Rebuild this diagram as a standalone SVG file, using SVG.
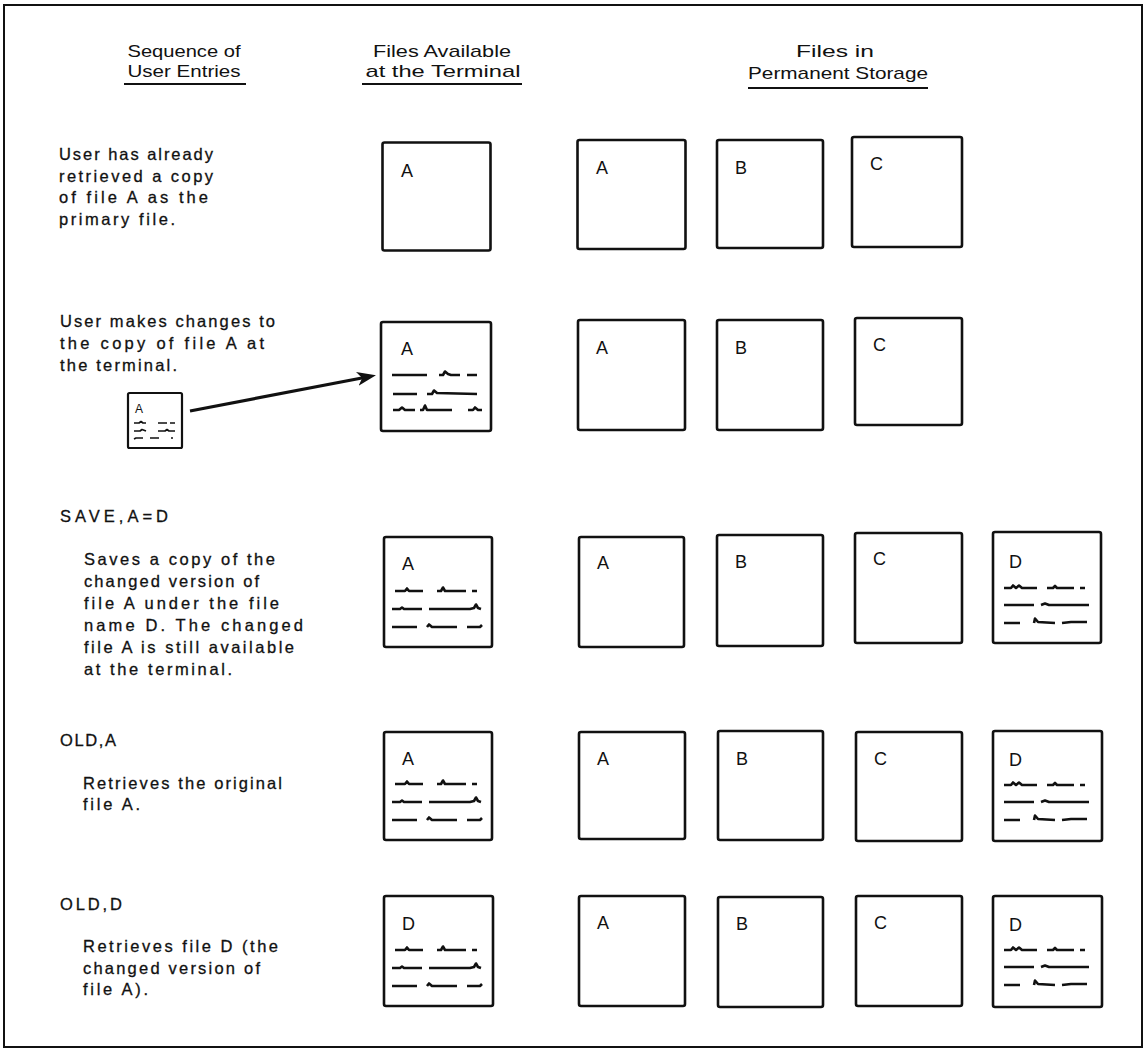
<svg xmlns="http://www.w3.org/2000/svg" xmlns:xlink="http://www.w3.org/1999/xlink" width="1147" height="1063" viewBox="0 0 1147 1063">
<style>
  .frame{fill:#fff;stroke:#111;stroke-width:2}
  .box{fill:#fff;stroke:#111;stroke-width:2.6}
  .hdr{font-family:"Liberation Sans Narrow","Liberation Sans",Arial,sans-serif;font-size:17px;fill:#111;text-anchor:middle}
  .ul{stroke:#111;stroke-width:2.2}
  .txt{font-family:"Liberation Sans",Arial,sans-serif;font-size:16.5px;fill:#111;stroke:#111;stroke-width:0.3}
  .lbl{font-family:"Liberation Sans",Arial,sans-serif;font-size:18px;fill:#111}
  .slbl{font-family:"Liberation Sans",Arial,sans-serif;font-size:12px;fill:#111}
  .scr{fill:none;stroke:#111;stroke-width:2.6;stroke-linejoin:round}
  .scrs{fill:none;stroke:#111;stroke-width:1.7;stroke-linejoin:round}
  .conn{fill:none;stroke:#111;stroke-width:3.2}
</style>
<defs>
  <marker id="arrow" markerUnits="userSpaceOnUse" markerWidth="22" markerHeight="16" refX="6" refY="7" orient="auto">
    <path d="M0,0 L19,7 L0,14 L5,7 Z" fill="#111"/>
  </marker>
  <g id="scrT">
    <path class="scr" d="M11,54 L21,54 L23,51.5 L25,54 L39,54 M53,54 L57,54 L59,50.5 L61,54 L82,54 M88,54 L93,54"/>
    <path class="scr" d="M8,72 L16,72 L18,70.5 L20,72 L38,72 M45,72 L86,72 L90,71 L92,67.5 L94,71 L97,72"/>
    <path class="scr" d="M8,90 L33,90 M43,90 L45,87.5 L48,90 L73,90 M83,90 L96,90 L98,88"/>
  </g>
  <g id="scrD">
    <path class="scr" d="M11,56 L18,56 L20,53.5 L23,56 L26,53.5 L29,56 L44,56 M54,56 L60,56 L62,54 L64,56 L81,56 M87,56 L92,56"/>
    <path class="scr" d="M11,73 L41,73 M48,73 L52,71.5 L56,73 L96,73"/>
    <path class="scr" d="M11,91 L27,91 M41,91 L42,86.5 L45,90 L62,91 M69,91 L78,90 L94,90"/>
  </g>
</defs>

<rect class="frame" x="4" y="5" width="1138" height="1042"/>

<g id="header">
  <text class="hdr" x="184" y="57" textLength="113" lengthAdjust="spacingAndGlyphs">Sequence of</text>
  <text class="hdr" x="184" y="77" textLength="113" lengthAdjust="spacingAndGlyphs">User Entries</text>
  <line class="ul" x1="124" y1="84" x2="246" y2="84"/>
  <text class="hdr" x="442" y="57" textLength="138" lengthAdjust="spacingAndGlyphs">Files Available</text>
  <text class="hdr" x="443" y="77" textLength="155" lengthAdjust="spacingAndGlyphs">at the Terminal</text>
  <line class="ul" x1="362" y1="84" x2="522" y2="84"/>
  <text class="hdr" x="835" y="57" textLength="78" lengthAdjust="spacingAndGlyphs">Files in</text>
  <text class="hdr" x="838" y="79" textLength="180" lengthAdjust="spacingAndGlyphs">Permanent Storage</text>
  <line class="ul" x1="748" y1="88" x2="928" y2="88"/>
</g>

<g id="entries">
  <text class="txt" x="59" y="160" textLength="154">User has already</text>
  <text class="txt" x="59" y="181.5" textLength="154">retrieved a copy</text>
  <text class="txt" x="59" y="203" textLength="149">of file A as the</text>
  <text class="txt" x="59" y="225" textLength="116">primary file.</text>

  <text class="txt" x="60" y="327" textLength="215">User makes changes to</text>
  <text class="txt" x="60" y="349" textLength="204">the copy of file A at</text>
  <text class="txt" x="60" y="371" textLength="117">the terminal.</text>

  <text class="txt" x="60" y="521.5" textLength="108">SAVE,A=D</text>
  <text class="txt" x="84" y="565" textLength="191">Saves a copy of the</text>
  <text class="txt" x="84" y="587" textLength="175">changed version of</text>
  <text class="txt" x="84" y="609" textLength="195">file A under the file</text>
  <text class="txt" x="84" y="631" textLength="219">name D.  The changed</text>
  <text class="txt" x="84" y="653" textLength="210">file A is still available</text>
  <text class="txt" x="84" y="675" textLength="148">at the terminal.</text>

  <text class="txt" x="60" y="746" textLength="56">OLD,A</text>
  <text class="txt" x="83" y="789" textLength="199">Retrieves the original</text>
  <text class="txt" x="83" y="810" textLength="57">file A.</text>

  <text class="txt" x="60" y="910" textLength="62">OLD,D</text>
  <text class="txt" x="83" y="952" textLength="195">Retrieves file D (the</text>
  <text class="txt" x="83" y="974" textLength="177">changed version of</text>
  <text class="txt" x="83" y="995" textLength="65">file A).</text>
</g>

<!-- Row 1 -->
<g id="r1-term"><rect class="box" x="382.5" y="142.5" width="108" height="108" rx="2"/><text class="lbl" x="401" y="177">A</text></g>
<g id="r1-A"><rect class="box" x="577.5" y="140" width="108" height="109" rx="2"/><text class="lbl" x="596" y="174">A</text></g>
<g id="r1-B"><rect class="box" x="717" y="140" width="106" height="108" rx="2"/><text class="lbl" x="735" y="174">B</text></g>
<g id="r1-C"><rect class="box" x="852" y="137" width="110" height="110" rx="2"/><text class="lbl" x="870" y="170">C</text></g>

<!-- Row 2 -->
<g id="r2-small">
  <rect class="box" x="128" y="393" width="54" height="55" rx="1.5" style="stroke-width:2.2"/>
  <text class="slbl" x="135" y="413">A</text>
  <path class="scrs" d="M134,423 L139,423 L141,421.5 L143,423 L146,423 M158,423 L167,423 M170,423 L175,423"/>
  <path class="scrs" d="M134,431 L140,431 L142,429.5 L146,431 M158,431 L165,431 L167,429.5 L169,431 L175,431"/>
  <path class="scrs" d="M134,439 L136,438 L143,438 M150,438 L159,438 M171,438 L173,438"/>
</g>
<g id="r2-term">
  <rect class="box" x="381" y="322" width="110" height="109" rx="2"/>
  <text class="lbl" x="401" y="355">A</text>
  <path class="scr" d="M392,375 L427,375 M439,375 L443,375 L445,371.5 L448,374 L451,375 L460,375 M467,375 L477,375"/>
  <path class="scr" d="M393,394 L417,394 M427,394 L432,394 L434,390.5 L437,393 L477,394"/>
  <path class="scr" d="M393,410 L399,410 L402,407.5 L405,410 L415,410 M420,410 L423,410 L425,405.5 L427,410 L452,410 M468,410 L473,410 L475,407.5 L478,410 L482,410"/>
</g>
<g id="r2-A"><rect class="box" x="578" y="320" width="107" height="110" rx="2"/><text class="lbl" x="596" y="354">A</text></g>
<g id="r2-B"><rect class="box" x="717" y="320" width="106" height="110" rx="2"/><text class="lbl" x="735" y="354">B</text></g>
<g id="r2-C"><rect class="box" x="855" y="318" width="107" height="107" rx="2"/><text class="lbl" x="873" y="351">C</text></g>

<!-- Row 3 -->
<g id="r3-term"><rect class="box" x="384" y="537" width="108" height="110" rx="2"/><text class="lbl" x="402" y="570">A</text><use xlink:href="#scrT" href="#scrT" x="384" y="537"/></g>
<g id="r3-A"><rect class="box" x="579" y="537" width="105" height="110" rx="2"/><text class="lbl" x="597" y="569">A</text></g>
<g id="r3-B"><rect class="box" x="717" y="535" width="106" height="111" rx="2"/><text class="lbl" x="735" y="568">B</text></g>
<g id="r3-C"><rect class="box" x="855" y="533" width="107" height="110" rx="2"/><text class="lbl" x="873" y="565">C</text></g>
<g id="r3-D"><rect class="box" x="993" y="532" width="108" height="111" rx="2"/><text class="lbl" x="1009" y="568">D</text><use xlink:href="#scrD" href="#scrD" x="993" y="532"/></g>

<!-- Row 4 -->
<g id="r4-term"><rect class="box" x="384" y="732" width="108" height="108" rx="2"/><text class="lbl" x="402" y="765">A</text><use xlink:href="#scrT" href="#scrT" x="384" y="730"/></g>
<g id="r4-A"><rect class="box" x="579" y="732" width="106" height="107" rx="2"/><text class="lbl" x="597" y="765">A</text></g>
<g id="r4-B"><rect class="box" x="718" y="731" width="105" height="109" rx="2"/><text class="lbl" x="736" y="765">B</text></g>
<g id="r4-C"><rect class="box" x="856" y="732" width="106" height="109" rx="2"/><text class="lbl" x="874" y="765">C</text></g>
<g id="r4-D"><rect class="box" x="993" y="731" width="109" height="110" rx="2"/><text class="lbl" x="1009" y="766">D</text><use xlink:href="#scrD" href="#scrD" x="993" y="729"/></g>

<!-- Row 5 -->
<g id="r5-term"><rect class="box" x="384" y="896" width="109" height="110" rx="2"/><text class="lbl" x="402" y="930">D</text><use xlink:href="#scrT" href="#scrT" x="384" y="896"/></g>
<g id="r5-A"><rect class="box" x="579" y="896" width="106" height="110" rx="2"/><text class="lbl" x="597" y="929">A</text></g>
<g id="r5-B"><rect class="box" x="718" y="897" width="105" height="110" rx="2"/><text class="lbl" x="736" y="930">B</text></g>
<g id="r5-C"><rect class="box" x="856" y="896" width="106" height="110" rx="2"/><text class="lbl" x="874" y="929">C</text></g>
<g id="r5-D"><rect class="box" x="993" y="896" width="109" height="111" rx="2"/><text class="lbl" x="1009" y="931">D</text><use xlink:href="#scrD" href="#scrD" x="993" y="894"/></g>

<g id="connectors">
  <line class="conn" x1="190" y1="411" x2="363.2" y2="377.8" marker-end="url(#arrow)"/>
</g>
</svg>
